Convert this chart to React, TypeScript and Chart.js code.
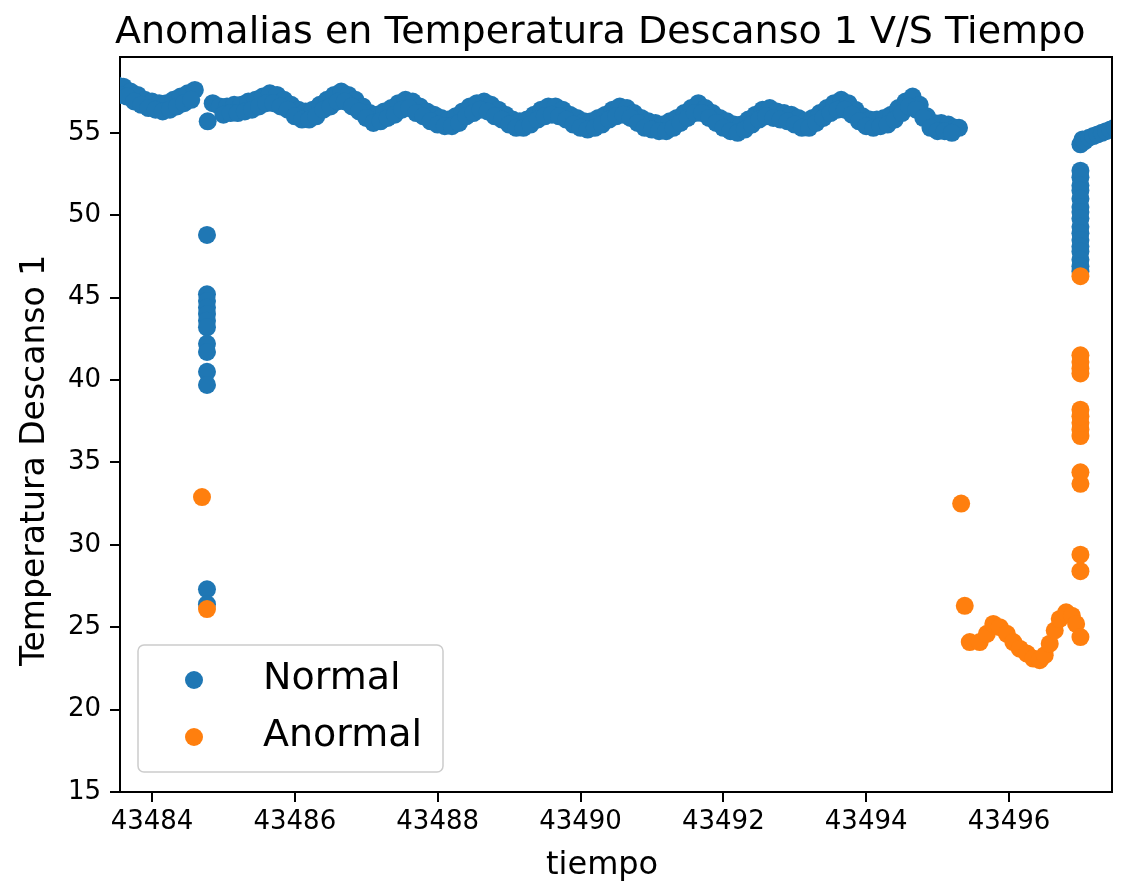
import { useEffect, useRef } from "react";
import { Chart, registerables } from "chart.js";

Chart.register(...registerables);

const FONT = "'DejaVu Sans', 'Noto Sans', sans-serif";
const BLUE = "#1f77b4";
const ORANGE = "#ff7f0e";

const titleText = "Anomalias en Temperatura Descanso 1 V/S Tiempo";
const xTitle = "tiempo";
const yTitle = "Temperatura Descanso 1";
const seriesNames = ["Normal", "Anormal"];

const xTicks = [43484, 43486, 43488, 43490, 43492, 43494, 43496];
const yTicks = [15, 20, 25, 30, 35, 40, 45, 50, 55];

// Normal readings: first day, before the sensor drop (upper and lower samples)
const firstDayTime = [
  43483.5, 43483.6, 43483.7, 43483.8, 43483.9, 43484.0, 43484.1, 43484.2,
  43484.3, 43484.4, 43484.5, 43484.6,
];
const firstDayTemp = [
  57.9, 57.8, 57.5, 57.3, 57.0, 56.9, 56.8, 56.8, 57.0, 57.2, 57.4, 57.6,
];
const firstDayLowTime = [
  43483.55, 43483.65, 43483.75, 43483.85, 43483.95, 43484.05, 43484.15,
  43484.25, 43484.35, 43484.45, 43484.55,
];
const firstDayLowTemp = [
  57.3, 57.2, 56.9, 56.7, 56.5, 56.4, 56.3, 56.4, 56.6, 56.8, 57.0,
];

// Normal readings caught during the first drop
const dropTime = [
  43484.77, 43484.77, 43484.77, 43484.77, 43484.77, 43484.77, 43484.77,
  43484.77, 43484.77, 43484.77, 43484.77, 43484.77, 43484.77, 43484.78,
  43484.85,
];
const dropTemp = [
  48.8, 45.2, 44.8, 44.4, 44.0, 43.6, 43.2, 42.2, 41.7, 40.5, 39.7, 27.3,
  26.4, 55.7, 56.8,
];

// Normal readings: long stable stretch, upper samples
const stableTime = [
  43484.95, 43485.05, 43485.15, 43485.25, 43485.35, 43485.45, 43485.55,
  43485.65, 43485.75, 43485.85, 43485.95, 43486.05, 43486.15, 43486.25,
  43486.35, 43486.45, 43486.55, 43486.65, 43486.75, 43486.85, 43486.95,
  43487.05, 43487.15, 43487.25, 43487.35, 43487.45, 43487.55, 43487.65,
  43487.75, 43487.85, 43487.95, 43488.05, 43488.15, 43488.25, 43488.35,
  43488.45, 43488.55, 43488.65, 43488.75, 43488.85, 43488.95, 43489.05,
  43489.15, 43489.25, 43489.35, 43489.45, 43489.55, 43489.65, 43489.75,
  43489.85, 43489.95, 43490.05, 43490.15, 43490.25, 43490.35, 43490.45,
  43490.55, 43490.65, 43490.75, 43490.85, 43490.95, 43491.05, 43491.15,
  43491.25, 43491.35, 43491.45, 43491.55, 43491.65, 43491.75, 43491.85,
  43491.95, 43492.05, 43492.15, 43492.25, 43492.35, 43492.45, 43492.55,
  43492.65, 43492.75, 43492.85, 43492.95, 43493.05, 43493.15, 43493.25,
  43493.35, 43493.45, 43493.55, 43493.65, 43493.75, 43493.85, 43493.95,
  43494.05, 43494.15, 43494.25, 43494.35, 43494.45, 43494.55, 43494.65,
  43494.75, 43494.85, 43494.95, 43495.05, 43495.15, 43495.25, 43495.3,
];
const stableTemp = [
  56.6, 56.6, 56.7, 56.7, 56.9, 57.0, 57.2, 57.4, 57.3, 57.0, 56.7, 56.4,
  56.3, 56.4, 56.7, 57.0, 57.3, 57.5, 57.3, 57.0, 56.6, 56.2, 56.1, 56.3,
  56.5, 56.8, 57.0, 56.9, 56.6, 56.3, 56.1, 55.9, 55.8, 56.0, 56.3, 56.6,
  56.8, 56.9, 56.7, 56.4, 56.1, 55.8, 55.7, 55.8, 56.1, 56.4, 56.6, 56.6,
  56.4, 56.1, 55.9, 55.7, 55.7, 55.9, 56.1, 56.4, 56.6, 56.5, 56.2, 55.9,
  55.7, 55.6, 55.5, 55.7, 55.9, 56.2, 56.5, 56.8, 56.5, 56.2, 55.9, 55.7,
  55.5, 55.5, 55.8, 56.1, 56.4, 56.5, 56.3, 56.2, 56.1, 55.9, 55.7, 55.9,
  56.2, 56.5, 56.8, 57.0, 56.8, 56.4, 56.0, 55.8, 55.8, 55.9, 56.1, 56.5,
  56.9, 57.2, 56.7, 56.0, 55.6, 55.6, 55.5, 55.3, 55.3,
];

// Normal readings: long stable stretch, lower samples
const stableLowTime = [
  43485.0, 43485.1, 43485.2, 43485.3, 43485.4, 43485.5, 43485.6, 43485.7,
  43485.8, 43485.9, 43486.0, 43486.1, 43486.2, 43486.3, 43486.4, 43486.5,
  43486.6, 43486.7, 43486.8, 43486.9, 43487.0, 43487.1, 43487.2, 43487.3,
  43487.4, 43487.5, 43487.6, 43487.7, 43487.8, 43487.9, 43488.0, 43488.1,
  43488.2, 43488.3, 43488.4, 43488.5, 43488.6, 43488.7, 43488.8, 43488.9,
  43489.0, 43489.1, 43489.2, 43489.3, 43489.4, 43489.5, 43489.6, 43489.7,
  43489.8, 43489.9, 43490.0, 43490.1, 43490.2, 43490.3, 43490.4, 43490.5,
  43490.6, 43490.7, 43490.8, 43490.9, 43491.0, 43491.1, 43491.2, 43491.3,
  43491.4, 43491.5, 43491.6, 43491.7, 43491.8, 43491.9, 43492.0, 43492.1,
  43492.2, 43492.3, 43492.4, 43492.5, 43492.6, 43492.7, 43492.8, 43492.9,
  43493.0, 43493.1, 43493.2, 43493.3, 43493.4, 43493.5, 43493.6, 43493.7,
  43493.8, 43493.9, 43494.0, 43494.1, 43494.2, 43494.3, 43494.4, 43494.5,
  43494.6, 43494.7, 43494.8, 43494.9, 43495.0, 43495.1, 43495.2,
];
const stableLowTemp = [
  56.1, 56.2, 56.2, 56.3, 56.4, 56.6, 56.8, 56.8, 56.6, 56.4, 56.0, 55.8,
  55.8, 56.0, 56.4, 56.6, 56.9, 56.9, 56.6, 56.3, 55.9, 55.6, 55.7, 55.9,
  56.1, 56.4, 56.5, 56.2, 56.0, 55.7, 55.5, 55.4, 55.4, 55.6, 56.0, 56.2,
  56.4, 56.3, 56.0, 55.8, 55.5, 55.3, 55.3, 55.5, 55.8, 56.0, 56.1, 56.0,
  55.8, 55.5, 55.3, 55.2, 55.3, 55.5, 55.8, 56.0, 56.1, 55.9, 55.6, 55.3,
  55.2, 55.1, 55.1, 55.3, 55.6, 55.9, 56.2, 56.2, 55.9, 55.6, 55.3, 55.1,
  55.0, 55.2, 55.5, 55.8, 56.0, 55.9, 55.8, 55.7, 55.5, 55.3, 55.3, 55.6,
  55.9, 56.2, 56.4, 56.4, 56.1, 55.7, 55.4, 55.3, 55.4, 55.5, 55.8, 56.2,
  56.6, 56.4, 55.9, 55.3, 55.1, 55.1, 55.0,
];

// Normal readings: recovery after the second drop
const recoveryTime = [
  43497.0, 43497.0, 43497.0, 43497.0, 43497.0, 43497.0, 43497.0, 43497.0,
  43497.0, 43497.0, 43497.0, 43497.0, 43497.0, 43497.0, 43497.0, 43497.0,
  43497.0, 43497.03, 43497.06, 43497.12, 43497.18, 43497.24, 43497.3,
  43497.36, 43497.42, 43497.48,
];
const recoveryTemp = [
  52.7, 52.3, 51.8, 51.5, 51.0, 50.5, 50.2, 49.8, 49.3, 48.9, 48.5, 48.1,
  47.8, 47.3, 46.9, 46.6, 54.3, 54.6, 54.5, 54.7, 54.8, 54.9, 55.0, 55.1,
  55.2, 55.3,
];

// Abnormal readings
const anomalyTime = [
  43484.7, 43484.77, 43495.33, 43495.38, 43495.45, 43495.59, 43495.69,
  43495.78, 43495.87, 43495.97, 43496.06, 43496.15, 43496.25, 43496.34,
  43496.43, 43496.5, 43496.57, 43496.64, 43496.71, 43496.8, 43496.88,
  43496.94, 43497.0, 43497.0, 43497.0, 43497.0, 43497.0, 43497.0, 43497.0,
  43497.0, 43497.0, 43497.0, 43497.0, 43497.0, 43497.0, 43497.0, 43497.0,
];
const anomalyTemp = [
  32.9, 26.1, 32.5, 26.3, 24.1, 24.1, 24.6, 25.2, 25.0, 24.6, 24.1, 23.7,
  23.4, 23.1, 23.0, 23.3, 24.0, 24.8, 25.5, 25.9, 25.7, 25.2, 24.4, 28.4,
  29.4, 33.7, 34.4, 36.6, 37.0, 37.4, 37.8, 38.2, 40.4, 40.7, 41.1, 41.5,
  46.3,
];

const pts = (t: number[], v: number[]) => t.map((x, i) => ({ x, y: v[i] }));

const normalPoints = [
  ...pts(firstDayTime, firstDayTemp),
  ...pts(firstDayLowTime, firstDayLowTemp),
  ...pts(dropTime, dropTemp),
  ...pts(stableTime, stableTemp),
  ...pts(stableLowTime, stableLowTemp),
  ...pts(recoveryTime, recoveryTemp),
];
const anomalyPoints = pts(anomalyTime, anomalyTemp);

export default function App() {
  const ref = useRef<HTMLCanvasElement>(null);

  useEffect(() => {
    const canvas = ref.current;
    if (!canvas) return;

    // Frame, titles and the boxed legend in the lower left
    const decor = {
      id: "decor",
      afterDraw(chart: any) {
        const { ctx, chartArea: a } = chart;
        ctx.save();
        ctx.strokeStyle = "#000";
        ctx.lineWidth = 2;
        ctx.beginPath();
        ctx.moveTo(a.left, a.top);
        ctx.lineTo(a.right, a.top);
        ctx.lineTo(a.right, a.bottom);
        ctx.stroke();

        ctx.fillStyle = "#000";
        ctx.textBaseline = "alphabetic";
        ctx.textAlign = "left";
        ctx.font = `38px ${FONT}`;
        ctx.fillText(titleText, 115, 43);
        ctx.font = `32px ${FONT}`;
        ctx.fillText(xTitle, 546, 874);
        ctx.save();
        ctx.font = `33px ${FONT}`;
        ctx.translate(44, 666);
        ctx.rotate(-Math.PI / 2);
        ctx.fillText(yTitle, 0, 0);
        ctx.restore();

        // legend box
        ctx.font = `38px ${FONT}`;
        ctx.beginPath();
        ctx.roundRect(138, 645, 305, 127, 6);
        ctx.fillStyle = "rgba(255,255,255,0.8)";
        ctx.fill();
        ctx.strokeStyle = "#cccccc";
        ctx.lineWidth = 1.5;
        ctx.stroke();
        const rows = [680, 737];
        chart.data.datasets.forEach((ds: any, i: number) => {
          ctx.beginPath();
          ctx.arc(194, rows[i], 9, 0, Math.PI * 2);
          ctx.fillStyle = ds.backgroundColor;
          ctx.fill();
          ctx.fillStyle = "#000";
          ctx.fillText(ds.label, 263, rows[i] + 9);
        });
        ctx.restore();
      },
    };

    const axisCommon = {
      type: "linear" as const,
      grid: {
        display: true,
        drawOnChartArea: false,
        drawTicks: true,
        tickLength: 10,
        color: "#000",
        lineWidth: 2,
      },
      border: { display: true, color: "#000", width: 2 },
    };

    const chart = new Chart(canvas, {
      type: "scatter",
      data: {
        datasets: [
          {
            label: seriesNames[0],
            data: normalPoints,
            backgroundColor: BLUE,
            borderColor: BLUE,
            borderWidth: 0,
            pointRadius: 9,
            order: 2,
            clip: 0,
          },
          {
            label: seriesNames[1],
            data: anomalyPoints,
            backgroundColor: ORANGE,
            borderColor: ORANGE,
            borderWidth: 0,
            pointRadius: 9,
            order: 1,
            clip: 0,
          },
        ],
      },
      options: {
        responsive: false,
        animation: false,
        devicePixelRatio: 1,
        events: [],
        layout: { padding: { top: 57, right: 9, left: 0, bottom: 0 } },
        plugins: {
          legend: { display: false },
          title: { display: false },
          tooltip: { enabled: false },
        },
        scales: {
          x: {
            ...axisCommon,
            min: 43483.552,
            max: 43497.442,
            afterBuildTicks: (s: any) => {
              s.ticks = xTicks.map((value) => ({ value }));
            },
            afterFit: (s: any) => {
              s.height = 94;
            },
            ticks: {
              color: "#000",
              padding: 5,
              maxRotation: 0,
              autoSkip: false,
              font: { family: FONT, size: 26 },
              callback: (v: any) => String(v),
            },
          },
          y: {
            ...axisCommon,
            min: 15,
            max: 59.6,
            afterBuildTicks: (s: any) => {
              s.ticks = yTicks.map((value) => ({ value }));
            },
            afterFit: (s: any) => {
              s.width = 120;
            },
            ticks: {
              color: "#000",
              padding: 9,
              autoSkip: false,
              font: { family: FONT, size: 26 },
              callback: (v: any) => String(v),
            },
          },
        },
      },
      plugins: [decor],
    });

    return () => chart.destroy();
  }, []);

  return (
    <canvas
      ref={ref}
      width={1121}
      height={886}
      style={{ position: "fixed", left: 0, top: 0, width: 1121, height: 886 }}
    />
  );
}
